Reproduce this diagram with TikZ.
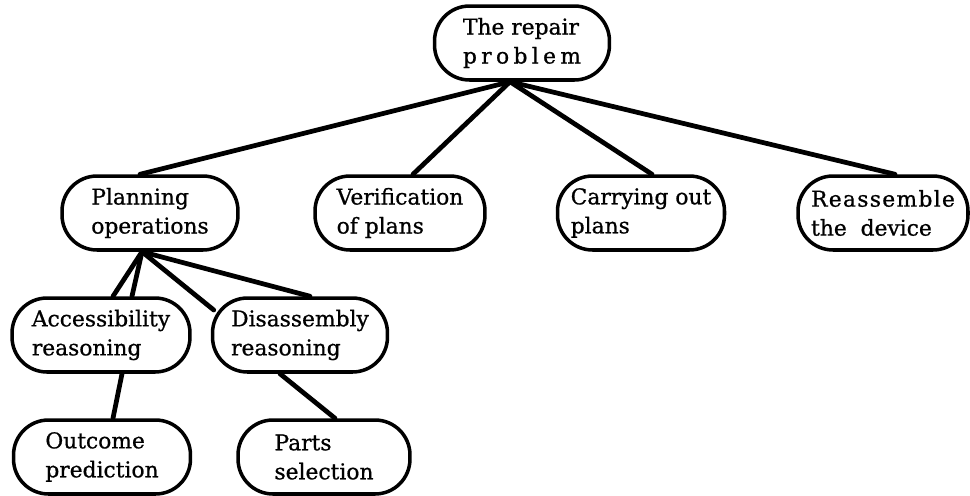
\documentclass[tikz,border=0pt]{standalone}
\usepackage{fontspec}
\setmainfont[FakeBold=0.8]{DejaVu Serif}
\usetikzlibrary{positioning}
\tikzset
{
    taskbox/.style = {rectangle, rounded corners=0.7cm, draw=black, line width=2pt, align=left, inner sep=0pt, minimum height=1.48cm, font=\fontsize{12.4}{16.5}\selectfont},
    link/.style    = {line width=2.7pt, line cap=round}
}

\begin{document}
\begin{tikzpicture}[x=0.02cm, y=-0.02cm]
   \useasboundingbox (0,0) rectangle (970,495);

   \node (root)    [taskbox, minimum width=3.5cm]  at (522, 43)  {The repair\\{\addfontfeature{LetterSpace=20}problem}};
   \node (plan)    [taskbox, minimum width=3.52cm] at (150, 213) {Planning\\operations};
   \node (verif)   [taskbox, minimum width=3.4cm]  at (400, 213) {Verification\\of plans};
   \node (carry)   [taskbox, minimum width=3.34cm] at (641, 213) {Carrying out\\plans};
   \node (reass)   [taskbox, minimum width=3.4cm]  at (883, 213) {{\addfontfeature{LetterSpace=6}Reassemble}\\the\ \ device};
   \node (access)  [taskbox, minimum width=3.56cm] at (101, 335) {Accessibility\\reasoning};
   \node (disas)   [taskbox, minimum width=3.5cm]  at (300, 335) {Disassembly\\reasoning};
   \node (outcome) [taskbox, minimum width=3.54cm] at (102, 457) {Outcome\\prediction};
   \node (parts)   [taskbox, minimum width=3.44cm] at (324, 457) {Parts\\selection};

   % meeting points under the parents
   \coordinate (rootfoot) at ([xshift=-0.24cm]root.south);
   \coordinate (planfoot) at ([xshift=-0.16cm]plan.south);

   \draw[link] (rootfoot) -- ([xshift=-0.2cm]plan.north);
   \draw[link] (rootfoot) -- ([xshift=0.26cm]verif.north);
   \draw[link] (rootfoot) -- ([xshift=0.22cm]carry.north);
   \draw[link] (rootfoot) -- ([xshift=0.24cm]reass.north);

   \draw[link] (planfoot) -- ([xshift=0.24cm]access.north);
   \draw[link] (planfoot) -- ([xshift=0.62cm]access.north);
   \draw[link] (planfoot) -- ([xshift=0.06cm, yshift=0.5cm]disas.west);
   \draw[link] (planfoot) -- ([xshift=0.2cm]disas.north);

   \draw[link] ([xshift=0.42cm]access.south) -- ([xshift=0.22cm]outcome.north);
   \draw[link] ([xshift=-0.4cm]disas.south) -- ([xshift=0.22cm]parts.north);
\end{tikzpicture}
\end{document}
